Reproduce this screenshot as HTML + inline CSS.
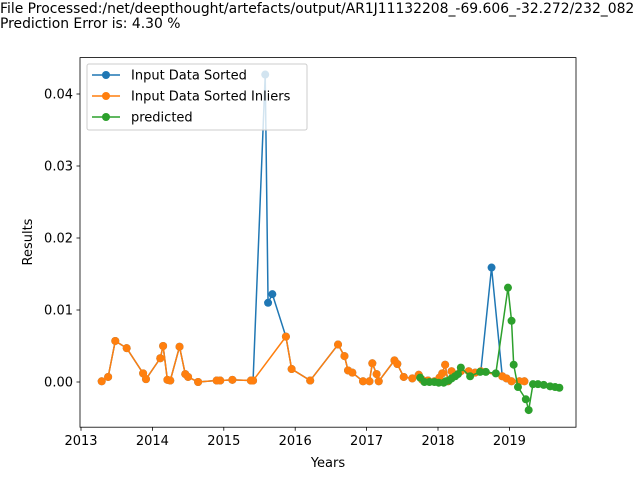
<!DOCTYPE html>
<html><head><meta charset="utf-8"><style>
body{margin:0;background:#fff;font-family:"DejaVu Sans","Liberation Sans",sans-serif}
svg text{font-family:"DejaVu Sans","Liberation Sans",sans-serif}
</style></head><body>
<svg id="chart" width="640" height="480" xmlns="http://www.w3.org/2000/svg">
<text x="0" y="13" font-size="13.9">File Processed:/net/deepthought/artefacts/output/AR1J11132208_-69.606_-32.272/232_082</text>
<text x="0" y="28" font-size="13.9">Prediction Error is: 4.30 %</text>
<g id="plot"></g>
</svg>
<script>
const orangeX=[2013.29,2013.38,2013.48,2013.64,2013.87,2013.91,2014.11,2014.15,2014.21,2014.25,2014.38,2014.46,2014.50,2014.64,2014.90,2014.95,2015.12,2015.38,2015.41,2015.87,2015.95,2016.21,2016.60,2016.69,2016.74,2016.80,2016.95,2017.04,2017.08,2017.14,2017.17,2017.39,2017.43,2017.52,2017.64,2017.73,2017.78,2017.86,2017.95,2018.02,2018.06,2018.10,2018.14,2018.19,2018.32,2018.43,2018.52,2018.60,2018.90,2018.96,2019.03,2019.14,2019.21];
const orangeY=[0.0001,0.0007,0.0057,0.0047,0.0012,0.0004,0.0033,0.0050,0.0003,0.0002,0.0049,0.0011,0.0007,0.0000,0.0002,0.0002,0.0003,0.0002,0.0002,0.0063,0.0018,0.0002,0.0052,0.0036,0.0016,0.0013,0.0001,0.0001,0.0026,0.0011,0.0001,0.0030,0.0025,0.0007,0.0005,0.0010,0.0003,0.0002,0.0001,0.0006,0.0012,0.0024,0.0001,0.0015,0.0015,0.0015,0.0013,0.0015,0.0008,0.0005,0.0001,0.0001,0.0001];
const outlierX=[2015.58,2015.62,2015.68,2018.75];
const outlierY=[0.0427,0.0110,0.0122,0.0159];
const greenX=[2017.75,2017.81,2017.88,2017.95,2018.01,2018.08,2018.11,2018.15,2018.19,2018.24,2018.28,2018.32,2018.45,2018.59,2018.67,2018.81,2018.98,2019.03,2019.06,2019.12,2019.23,2019.27,2019.33,2019.40,2019.48,2019.57,2019.64,2019.70];
const greenY=[0.0006,0.0000,0.0000,0.0000,-0.0001,-0.0001,0.0001,0.0002,0.0005,0.0008,0.0011,0.0020,0.0008,0.0014,0.0014,0.0012,0.0131,0.0085,0.0024,-0.0007,-0.0024,-0.0039,-0.0003,-0.0003,-0.0004,-0.0006,-0.0007,-0.0008];
const xTicks=[2013,2014,2015,2016,2017,2018,2019];
const yTicks=[0.00,0.01,0.02,0.03,0.04];
const yTickLabels=["0.00","0.01","0.02","0.03","0.04"];

const L=80,R=576,T=57.6,B=427.2;
const xs=v=>81+(v-2013)*71.4;
const ys=v=>382-v*7200;
const g=document.getElementById('plot');
const NS='http://www.w3.org/2000/svg';
function mk(tag,at){const e=document.createElementNS(NS,tag);for(const k in at)e.setAttribute(k,at[k]);g.appendChild(e);return e;}

const blue=orangeX.map((x,i)=>[x,orangeY[i]]).concat(outlierX.map((x,i)=>[x,outlierY[i]])).sort((a,b)=>a[0]-b[0]);
function series(pts,color,name){
  const pl=mk('polyline',{points:pts.map(p=>xs(p[0])+','+ys(p[1])).join(' '),fill:'none',stroke:color,'stroke-width':1.5});
  
  
  pts.forEach(p=>{const c=mk('circle',{cx:xs(p[0]),cy:ys(p[1]),r:4,fill:color});
    
    });
}
series(blue,'#1f77b4','input-sorted');
series(orangeX.map((x,i)=>[x,orangeY[i]]),'#ff7f0e','inliers');
series(greenX.map((x,i)=>[x,greenY[i]]),'#2ca02c','predicted');

const fr=mk('rect',{x:L,y:T,width:R-L,height:B-T,fill:'none',stroke:'#000','stroke-width':0.8});


xTicks.forEach(t=>{const x=xs(t);mk('line',{x1:x,x2:x,y1:B,y2:B+3.5,stroke:'#000','stroke-width':0.8});
  const tx=mk('text',{x:x,y:B+18,'font-size':13,'text-anchor':'middle'});tx.textContent=t;
  
  });
yTicks.forEach((t,i)=>{const y=ys(t);mk('line',{x1:L-3.5,x2:L,y1:y,y2:y,stroke:'#000','stroke-width':0.8});
  const tx=mk('text',{x:L-7,y:y+4.5,'font-size':13,'text-anchor':'end'});tx.textContent=yTickLabels[i];
  
  });
const xt=mk('text',{x:328,y:467,'font-size':13,'text-anchor':'middle'});xt.textContent='Years';


const yt=mk('text',{x:32,y:242,'font-size':13,'text-anchor':'middle',transform:'rotate(-90 32 242)'});yt.textContent='Results';



const lg=mk('rect',{x:87,y:64,width:220,height:66,fill:'#fff','fill-opacity':0.8,stroke:'#ccc',rx:2});


[['Input Data Sorted','#1f77b4'],['Input Data Sorted Inliers','#ff7f0e'],['predicted','#2ca02c']].forEach((e,i)=>{
  const y=75+i*21;
  mk('line',{x1:92,x2:120,y1:y,y2:y,stroke:e[1],'stroke-width':1.5});
  mk('circle',{cx:106,cy:y,r:4,fill:e[1]});
  const t=mk('text',{x:131,y:y+4.5,'font-size':13});t.textContent=e[0];
  
  
});
</script>
</body></html>
